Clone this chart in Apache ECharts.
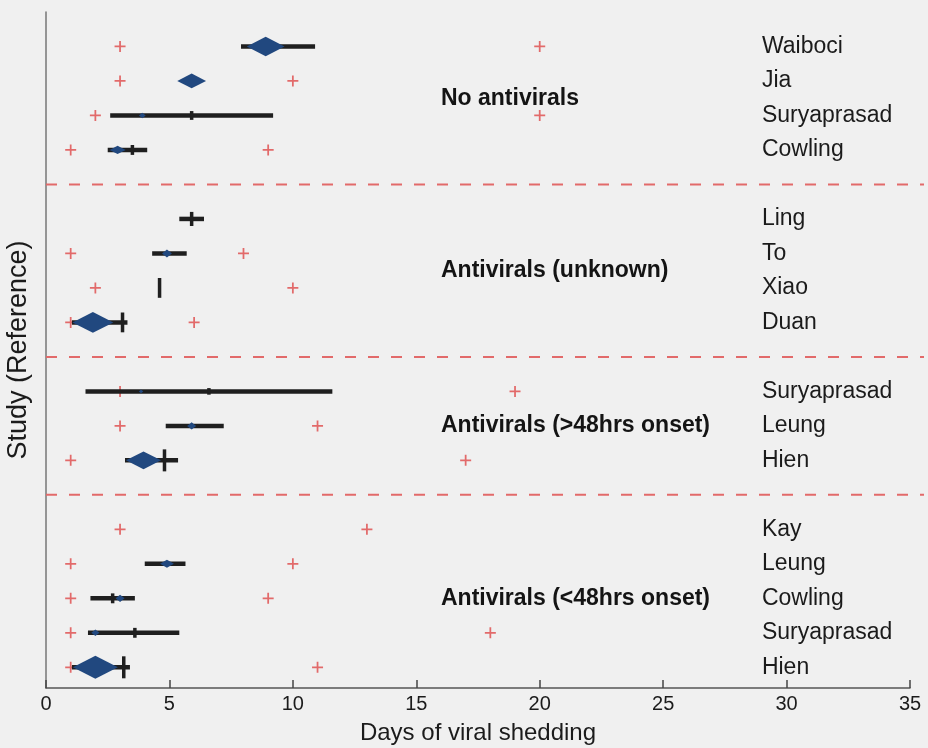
<!DOCTYPE html>
<html>
<head>
<meta charset="utf-8">
<script src="https://cdn.jsdelivr.net/npm/echarts@6/dist/echarts.min.js"></script>
<style>
  html, body { margin: 0; padding: 0; background: #f0f0f0; }
  #chart { width: 928px; height: 748px; }
</style>
</head>
<body>
<div id="chart"></div>
<script>
// Study groups, in drawing order from top to bottom
const groups = ['No antivirals', 'Antivirals (unknown)', 'Antivirals (>48hrs onset)', 'Antivirals (<48hrs onset)'];
const groupSizes = [4, 4, 3, 5];

const studies = ['Waiboci', 'Jia', 'Suryaprasad', 'Cowling',
                 'Ling', 'To', 'Xiao', 'Duan',
                 'Suryaprasad', 'Leung', 'Hien',
                 'Kay', 'Leung', 'Cowling', 'Suryaprasad', 'Hien'];

// Reported range of shedding duration (days)
const rangeMin = [3, 3, 2, 1,   null, 1, 2, 1,   3, 3, 1,   3, 1, 1, 1, 1];
const rangeMax = [20, 10, 20, 9, null, 8, 10, 6, 19, 11, 17, 13, 10, 9, 18, 11];

// Confidence interval of the mean (days)
const ciLow  = [7.9, null, 2.6, 2.5,  5.4, 4.3, null, 1.05,  1.6, 4.85, 3.2,  null, 4.0, 1.8, 1.7, 1.05];
const ciHigh = [10.9, null, 9.2, 4.1, 6.4, 5.7, null, 3.3,   11.6, 7.2, 5.35, null, 5.65, 3.6, 5.4, 3.4];

// Mean duration and relative study weight
const meanDays   = [8.9, 5.9, 3.9, 2.9,  null, 4.9, null, 1.9,  3.85, 5.9, 3.95,  null, 4.9, 3.0, 2.0, 2.0];
const meanWeight = [0.84, 0.64, 0.15, 0.36, null, 0.22, null, 0.91, 0.1, 0.2, 0.78, null, 0.31, 0.2, 0.18, 1.0];

// Median duration and relative weight of its marker
const medianDays   = [null, null, 5.9, 3.5,  5.9, null, 4.6, 3.1,  6.6, null, 4.8,  null, null, 2.7, 3.6, 3.15];
const medianWeight = [null, null, 0.4, 0.45, 0.64, null, 0.9, 0.9, 0.3, null, 1.0, null, null, 0.45, 0.45, 1.0];

const xTicks = { min: 0, max: 35, step: 5 };

// Row slots: studies stacked, one empty slot between groups for the divider
const slot = [];
const groupCenter = [];
const dividers = [];
let s = 0;
groups.forEach((g, gi) => {
  if (gi > 0) { dividers.push(s); s++; }
  const start = s;
  for (let k = 0; k < groupSizes[gi]; k++) slot.push(s++);
  groupCenter.push(start + (groupSizes[gi] - 1) / 2);
});

const FONT = '"Liberation Sans", Arial, Helvetica, sans-serif';
const TEXT = '#1b1b1b';
const RED = '#e26a6a';
const BLUE = '#21487f';
const INK = '#1f1f1f';

const plusPath = 'path://M4.2,0H5.8V4.2H10V5.8H5.8V10H4.2V5.8H0V4.2H4.2Z';

const rangeData = [];
studies.forEach((st, i) => {
  if (rangeMin[i] != null) rangeData.push([rangeMin[i], slot[i]]);
  if (rangeMax[i] != null) rangeData.push([rangeMax[i], slot[i]]);
});

const ciData = [];
studies.forEach((st, i) => {
  if (ciLow[i] != null) ciData.push([ciLow[i], ciHigh[i], slot[i]]);
});

const meanData = [];
studies.forEach((st, i) => {
  if (meanDays[i] != null) meanData.push([meanDays[i], slot[i], meanWeight[i]]);
});

const medianData = [];
studies.forEach((st, i) => {
  if (medianDays[i] != null) medianData.push([medianDays[i], slot[i], medianWeight[i]]);
});

const chart = echarts.init(document.getElementById('chart'), null, { renderer: 'canvas' });

chart.setOption({
  backgroundColor: '#f0f0f0',
  animation: false,
  textStyle: { fontFamily: FONT },
  grid: { left: 46, right: 18, top: 12, bottom: 60, containLabel: false, outerBoundsMode: 'none' },
  xAxis: {
    type: 'value',
    min: xTicks.min, max: xTicks.max, interval: xTicks.step,
    axisLine: { show: true, onZero: false, lineStyle: { color: '#555', width: 1.5 } },
    axisTick: { show: true, inside: true, length: 8, lineStyle: { color: '#444', width: 1.5 } },
    axisLabel: { fontSize: 20, color: TEXT, margin: 6, fontFamily: FONT },
    splitLine: { show: false },
    name: 'Days of viral shedding',
    nameLocation: 'middle',
    nameGap: 33,
    nameTextStyle: { fontSize: 24, color: TEXT, fontFamily: FONT }
  },
  yAxis: {
    type: 'value',
    inverse: true,
    min: -1, max: 18.6,
    axisLine: { show: true, onZero: false, lineStyle: { color: '#777', width: 1.5 } },
    axisTick: { show: false },
    axisLabel: { show: false },
    splitLine: { show: false },
    name: 'Study (Reference)',
    nameLocation: 'middle',
    nameGap: 14,
    nameRotate: 90,
    nameTextStyle: { fontSize: 27, color: TEXT, fontFamily: FONT }
  },
  series: [
    {
      // dashed dividers between the groups
      type: 'custom',
      clip: false,
      silent: true,
      z: 1,
      data: dividers.map(d => [0, d]),
      encode: { x: 0, y: 1 },
      renderItem: (params, api) => {
        const p = api.coord([api.value(0), api.value(1)]);
        return {
          type: 'line',
          shape: { x1: p[0], y1: p[1], x2: api.getWidth() - 4, y2: p[1] },
          style: { stroke: RED, lineWidth: 2, lineDash: [11, 12] }
        };
      }
    },
    {
      // reported range endpoints
      type: 'scatter',
      z: 2,
      symbol: plusPath,
      symbolSize: 11,
      itemStyle: { color: RED, opacity: 1 },
      data: rangeData
    },
    {
      // confidence intervals
      type: 'custom',
      z: 3,
      data: ciData,
      encode: { x: [0, 1], y: 2 },
      renderItem: (params, api) => {
        const a = api.coord([api.value(0), api.value(2)]);
        const b = api.coord([api.value(1), api.value(2)]);
        return {
          type: 'line',
          shape: { x1: a[0], y1: a[1], x2: b[0], y2: b[1] },
          style: { stroke: INK, lineWidth: 4.5 }
        };
      }
    },
    {
      // mean, diamond sized by study weight
      type: 'scatter',
      z: 4,
      symbol: 'diamond',
      symbolSize: (val) => {
        const w = 45 * val[2];
        const h = Math.max(23 * val[2], Math.min(w * 0.8, 8));
        return [w, h];
      },
      itemStyle: { color: BLUE, opacity: 1 },
      data: meanData
    },
    {
      // median marker
      type: 'custom',
      z: 5,
      data: medianData,
      encode: { x: 0, y: 1 },
      renderItem: (params, api) => {
        const p = api.coord([api.value(0), api.value(1)]);
        const h = 22 * api.value(2);
        return {
          type: 'rect',
          shape: { x: p[0] - 1.75, y: p[1] - h / 2, width: 3.5, height: h },
          style: { fill: INK }
        };
      }
    },
    {
      // study names
      type: 'custom',
      z: 6,
      clip: false,
      data: studies.map((st, i) => [29, slot[i]]),
      encode: { x: 0, y: 1 },
      renderItem: (params, api) => {
        const p = api.coord([api.value(0), api.value(1)]);
        return {
          type: 'text',
          x: p[0], y: p[1],
          style: {
            text: studies[params.dataIndex],
            fill: TEXT,
            font: '23px ' + FONT,
            textAlign: 'left',
            textVerticalAlign: 'middle'
          }
        };
      }
    },
    {
      // group titles
      type: 'custom',
      z: 6,
      clip: false,
      data: groups.map((g, gi) => [16, groupCenter[gi]]),
      encode: { x: 0, y: 1 },
      renderItem: (params, api) => {
        const p = api.coord([api.value(0), api.value(1)]);
        return {
          type: 'text',
          x: p[0], y: p[1],
          style: {
            text: groups[params.dataIndex],
            fill: '#141414',
            font: 'bold 23px ' + FONT,
            textAlign: 'left',
            textVerticalAlign: 'middle'
          }
        };
      }
    }
  ]
});
</script>
</body>
</html>
